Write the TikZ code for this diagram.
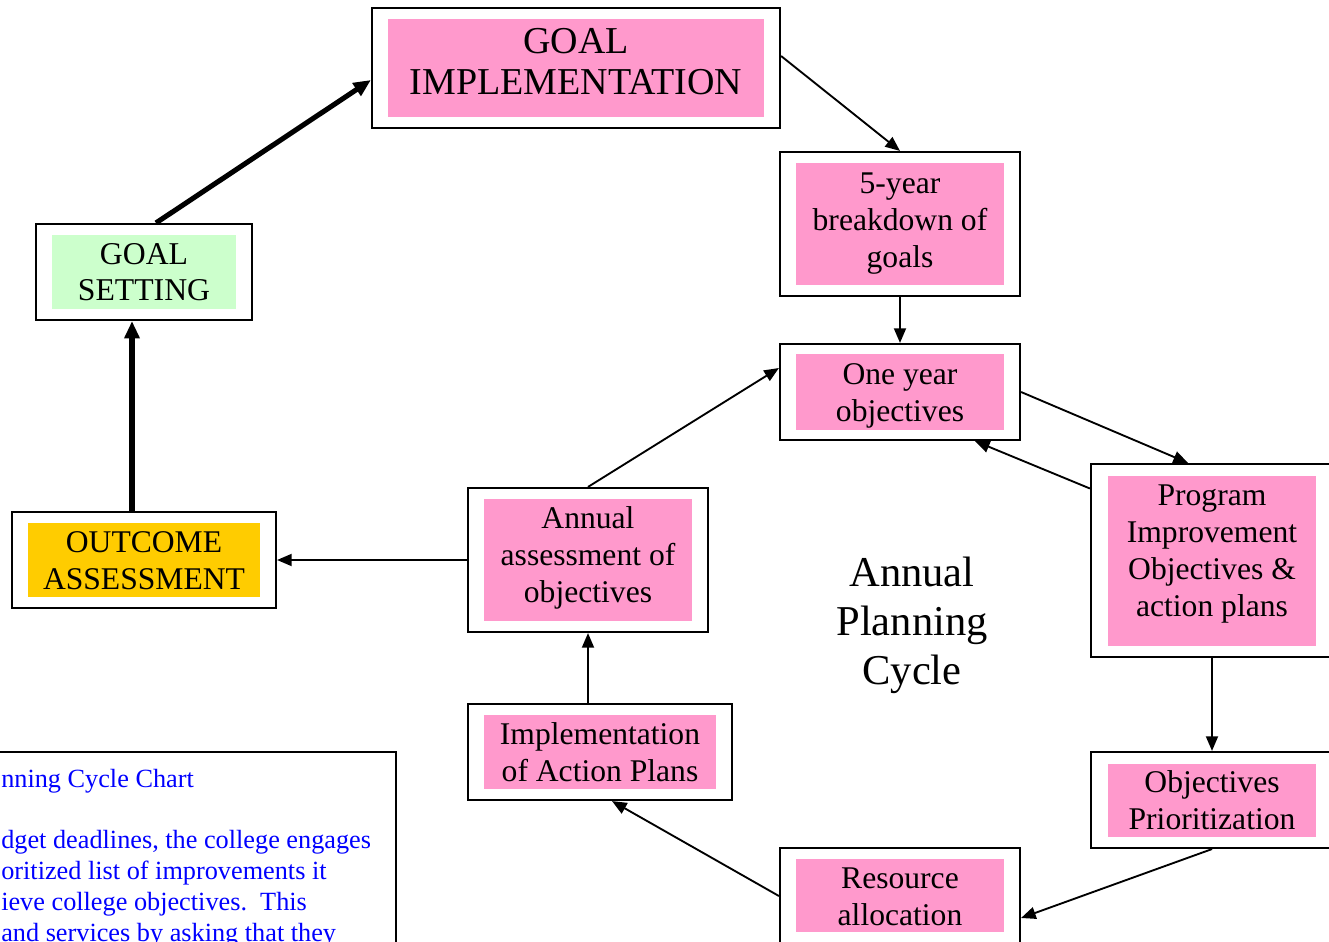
\documentclass[tikz,border=0pt]{standalone}
\usepackage{fontspec}
\setmainfont{Liberation Serif}
\usetikzlibrary{arrows.meta}
\definecolor{pinkfill}{HTML}{FF99CC}
\definecolor{greenfill}{HTML}{CCFFCC}
\definecolor{goldfill}{HTML}{FFCC00}
\definecolor{bluetext}{HTML}{0000FF}
\tikzset{
  outerbox/.style 2 args={draw=black, line width=1.6pt, fill=white, inner sep=0pt,
    minimum width=#1*0.75pt, minimum height=#2*0.75pt},
  innerbox/.style 2 args={inner sep=0pt,
    minimum width=#1*0.75pt, minimum height=#2*0.75pt},
  boxtext/.style={inner sep=0pt, align=center, text=black, font=\fontsize{23.7}{27.75}\selectfont},
  thinarrow/.style={draw=black, line width=1.4pt, -{Triangle[length=11pt,width=9pt]}},
  thickarrow/.style={draw=black, line width=3.8pt, -{Triangle[length=13pt,width=11pt]}},
  bluefont/.style={text=bluetext, inner sep=0pt, anchor=base west, font=\fontsize{19.7}{23.25}\selectfont},
}
\begin{document}
\begin{tikzpicture}[x=0.75pt, y=-0.75pt]
\clip (0,0) rectangle (1329,942);
\fill[white] (0,0) rectangle (1329,942);

% boxes
\node[outerbox={408}{120}] (gi) at (576,68) {};
\node[innerbox={376}{98}, fill=pinkfill] (gii) at (576,68) {};
\node[boxtext, font=\fontsize{28.5}{30.75}\selectfont] (gitx) at (576,62) {GOAL\\IMPLEMENTATION};

\node[outerbox={240}{144}] (fy) at (900,224) {};
\node[innerbox={208}{122}, fill=pinkfill] (fyi) at (900,224) {};
\node[boxtext] (fytx) at (900,223.5) {5-year\\breakdown of\\goals};

\node[outerbox={240}{96}] (oy) at (900,392) {};
\node[innerbox={208}{76}, fill=pinkfill] (oyi) at (900,392) {};
\node[boxtext] (oytx) at (900,396) {One year\\objectives};

\node[outerbox={242}{193}] (pi) at (1212,560.5) {};
\node[innerbox={208}{170}, fill=pinkfill] (pii) at (1212,561) {};
\node[boxtext] (pitx) at (1212,554) {Program\\Improvement\\Objectives \&\\action plans};

\node[outerbox={242}{96}] (op) at (1212,800) {};
\node[innerbox={208}{73}, fill=pinkfill] (opi) at (1212,800.5) {};
\node[boxtext] (optx) at (1212,800.5) {Objectives\\Prioritization};

\node[outerbox={240}{96}] (ra) at (900,896) {};
\node[innerbox={208}{73}, fill=pinkfill] (rai) at (900,895.5) {};
\node[boxtext] (ratx) at (900,896.5) {Resource\\allocation};

\node[outerbox={264}{96}] (ia) at (600,752) {};
\node[innerbox={232}{74}, fill=pinkfill] (iai) at (600,752) {};
\node[boxtext] (iatx) at (600,752) {Implementation\\of Action Plans};

\node[outerbox={240}{144}] (aa) at (588,560) {};
\node[innerbox={208}{122}, fill=pinkfill] (aai) at (588,560) {};
\node[boxtext] (aatx) at (588,558) {Annual\\assessment of\\objectives};

\node[outerbox={264}{96}] (oa) at (144,560) {};
\node[innerbox={232}{74}, fill=goldfill] (oai) at (144,560) {};
\node[boxtext] (oatx) at (144,560.5) {OUTCOME\\ASSESSMENT};

\node[outerbox={216}{96}] (gs) at (144,272) {};
\node[innerbox={184}{74}, fill=greenfill] (gsi) at (144,272) {};
\node[boxtext, font=\fontsize{23.8}{27}\selectfont] (gstx) at (144,272) {GOAL\\SETTING};

\node[inner sep=0pt, align=center, font=\fontsize{31.9}{36.75}\selectfont] (apc) at (912,625) {Annual\\Planning\\Cycle};

% text box
\draw[line width=1.6pt] (-20,752) rectangle (396,980);
\node[bluefont] (t1) at (1,787) {nning Cycle Chart};
\node[bluefont] (t2) at (1,848) {dget deadlines, the college engages};
\node[bluefont] (t3) at (1,879) {oritized list of improvements it};
\node[bluefont] (t4) at (1,910) {ieve college objectives.\ \ This};
\node[bluefont] (t5) at (1,941) {and services by asking that they};

% connectors
\draw[thinarrow] ([yshift=9pt]gi.east) -- (fy.north);
\draw[thinarrow] (fy.south) -- (oy.north);
\draw[thinarrow] (oy.east) -- ([xshift=-18pt]pi.north);
\draw[thinarrow] ([yshift=54pt]pi.west) -- ([xshift=56.25pt]oy.south);
\draw[thinarrow] (pi.south) -- (op.north);
\draw[thinarrow] (op.south) -- ([yshift=-16.5pt]ra.east);
\draw[thinarrow] (ra.west) -- ([xshift=9pt]ia.south);
\draw[thinarrow] ([xshift=-9pt]ia.north) -- (aa.south);
\draw[thinarrow] (aa.north) -- ([yshift=18pt]oy.west);
\draw[thinarrow] (aa.west) -- (oa.east);
\draw[thickarrow] ([xshift=-9pt]oa.north) -- ([xshift=-9pt]gs.south);
\draw[thickarrow] ([xshift=9pt]gs.north) -- ([yshift=-9pt]gi.west);
\end{tikzpicture}
\end{document}
